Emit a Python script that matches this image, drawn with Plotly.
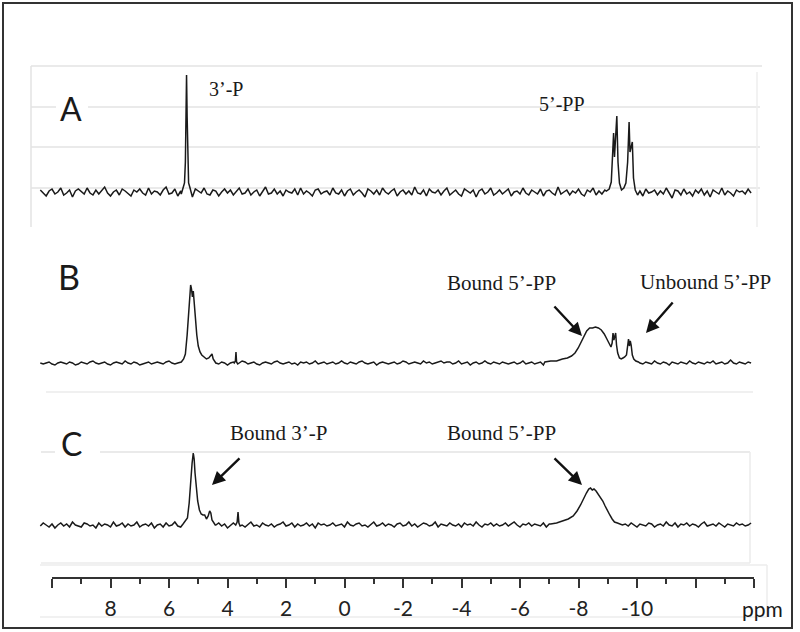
import numpy as np
import plotly.graph_objects as go

# ---------------- data (ppm, intensity in arbitrary units, baseline = 0) ----------------
grid_start, grid_stop, grid_step = 10.4, -13.95, -0.1

noise_A = [2,-1,-4,1,3,-2,0,4,-3,-1,2,-5,1,3,0,-2,4,-1,-3,2,
           -2,1,5,-1,-4,0,2,-3,3,1,-2,-4,2,0,3,-1,-3,4,-2,1,
           0,-3,2,5,-2,-1,3,-4,1,-2,2,0,-5,3,1,-1,4,-2,-3,2,
           1,-4,0,3,-1,2,-3,1,4,-2,-1,3,-3,0,2,-4,1,5,-2,-1,
           3,-2,1,-4,2,0,-1,3,-3,4,-2,1,-1,-4,2,3,-2,0,1,-3,
           4,-1,-2,2,-4,1,3,-3,0,2,-1,-5,3,1,-2,2,-3,4,0,-2,
           1,3,-4,0,2,-2,1,-3,5,-1,-2,2,-4,3,0,-1,2,-3,1,4,
           -3,0,2,-2,-4,3,1,-1,2,-5,1,3,-2,0,4,-3,-1,2,-2,1,
           3,-4,0,1,-2,4,-1,-3,2,0,-2,3,-4,1,2,-1,-3,5,-2,0,
           2,-3,1,-1,3,-2,-4,2,0,4,-3,1,-2,2,-1,-5,3,0,-2,1,
           -1,4,-2,-3,2,1,-4,3,-1,0,2,-3,1,-2,4,-1,-6,2,1,-3,
           3,-2,0,-4,2,-1,3,-3,1,-5,2,0,-2,4,-3,1,-1,-4,2,0,
           1,-2,3,-1]
noise_B = [0,-1,0,1,-1,-2,0,1,0,-1,1,0,-2,-1,1,0,-1,1,2,0,
           -1,0,1,-1,-2,0,1,0,-1,2,0,-1,1,0,-2,-1,0,1,-1,0,
           1,0,-1,1,2,0,-1,0,1,-1,-2,0,1,1,-1,0,2,0,-1,1,
           0,-1,1,0,-2,0,1,-1,0,2,1,-1,0,1,-1,-2,0,1,0,-1,
           1,2,0,-1,0,1,-1,0,-2,1,0,1,-1,0,2,-1,0,1,-1,0,
           1,-1,0,2,0,-1,1,0,-1,1,2,0,-1,0,1,-2,0,1,0,-1,
           0,1,-1,0,2,1,-1,0,1,0,-1,2,0,1,-1,0,1,2,0,1,
           1,-1,0,2,-1,0,1,-2,0,1,-1,0,2,0,-1,1,0,-1,1,0,
           -1,0,1,-1,0,2,-1,0,1,-1,0,1,-2,0,1,0,-1,1,0,-1,
           1,0,-1,2,0,-1,1,0,-2,1,0,-1,1,2,0,-1,0,1,-1,0,
           1,-1,0,1,3,0,-1,1,0,-1,2,0,-1,1,0,-2,1,0,-1,1,
           0,-1,2,0,-1,1,0,-1,1,0,2,-1,0,1,-1,0,3,0,-1,1,
           0,-1,1,0]
noise_C = [-1,2,0,-2,1,-3,0,2,-1,1,-2,3,0,-1,-2,2,1,-1,0,-3,
           2,-1,1,0,-2,3,-1,0,2,-2,1,-1,0,3,-2,0,1,-1,2,-3,
           0,1,-2,2,-1,0,3,-1,-2,1,0,2,-1,-3,1,0,2,-2,1,-1,
           0,2,-1,1,-3,0,2,-1,1,0,-2,1,3,-1,0,-2,2,0,-1,1,
           -2,0,1,3,-1,0,2,-2,1,-1,0,2,-1,1,-3,2,0,1,-1,0,
           2,-1,0,1,-2,3,0,-1,1,2,-1,0,-2,1,3,-1,0,2,-1,1,
           0,-2,1,2,-1,0,3,-1,1,-2,0,2,1,-1,0,3,-2,1,0,-1,
           2,0,-1,1,-2,2,0,1,-1,3,0,-2,1,0,2,-1,1,-1,0,2,
           -1,1,3,0,-2,1,0,2,-1,1,0,-1,2,-2,1,0,3,-1,0,1,
           -2,1,0,2,-1,0,1,-2,2,0,-1,1,3,-1,0,-2,1,2,-1,0,
           1,-1,2,0,-2,1,0,-1,2,1,-2,0,1,-1,3,0,-1,2,-2,1,
           0,2,-1,1,0,-2,1,3,-1,0,1,-1,2,0,-2,1,0,-1,2,0,
           1,-1,0,2]

# peaks: (ppm list, intensity list)
peaks_A = [
    ([5.58, 5.52, 5.47, 5.44, 5.42, 5.40, 5.38, 5.36, 5.33, 5.29, 5.24],
     [-2, 4, 9, 30, 90, 117, 75, 25, 9, 5, -1]),
    ([-8.95, -9.05, -9.12, -9.17, -9.20, -9.23, -9.27, -9.31, -9.35, -9.40, -9.47, -9.55, -9.62, -9.68, -9.73, -9.76, -9.80, -9.84, -9.88, -9.94, -10.02],
     [1, 3, 10, 40, 59, 35, 55, 76, 30, 9, 2, 4, 9, 30, 70, 40, 45, 50, 14, 2, -3]),
]
peaks_B = [
    ([5.58, 5.50, 5.44, 5.38, 5.33, 5.29, 5.26, 5.23, 5.20, 5.17, 5.14, 5.10, 5.05, 5.00, 4.94, 4.88, 4.80, 4.72, 4.64, 4.57, 4.53, 4.49, 4.44],
     [1, 4, 9, 28, 52, 70, 78, 74, 66, 72, 60, 44, 28, 17, 11, 8, 6, 4, 5, 8, 9, 4, 1]),
    ([3.77, 3.73, 3.71, 3.69, 3.65],
     [0, 2, 11, 1, -1]),
    ([-6.85, -7.05, -7.25, -7.45, -7.62, -7.76, -7.88, -7.99, -8.09, -8.18, -8.28, -8.38, -8.48, -8.58, -8.68, -8.78, -8.88, -8.97, -9.05, -9.11, -9.15, -9.18, -9.21, -9.24, -9.27, -9.30, -9.34, -9.40, -9.46, -9.52, -9.58, -9.64, -9.68, -9.71, -9.74, -9.77, -9.80, -9.84, -9.89, -9.96, -10.05],
     [1, 2, 2, 4, 5, 7, 10, 15, 21, 27, 32, 35, 35, 36, 35, 33, 29, 24, 19, 16, 20, 30, 23, 28, 30, 18, 10, 5, 4, 5, 6, 8, 15, 24, 17, 22, 18, 8, 4, 2, 1]),
]
peaks_C = [
    ([5.52, 5.44, 5.37, 5.31, 5.26, 5.21, 5.17, 5.14, 5.11, 5.07, 5.02, 4.96, 4.90, 4.84, 4.78, 4.72, 4.66, 4.61, 4.57, 4.53, 4.48, 4.42],
     [1, 4, 7, 22, 45, 62, 72, 66, 52, 38, 24, 15, 11, 10, 10, 6, 9, 14, 12, 5, 2, 0]),
    ([3.72, 3.67, 3.64, 3.61, 3.57],
     [0, 3, 13, 2, -1]),
    ([-7.05, -7.25, -7.45, -7.65, -7.82, -7.95, -8.07, -8.18, -8.27, -8.35, -8.41, -8.47, -8.53, -8.60, -8.67, -8.75, -8.83, -8.91, -8.99, -9.07, -9.15, -9.23, -9.33, -9.45],
     [1, 2, 4, 6, 9, 14, 20, 27, 32, 36, 37, 35, 36, 34, 31, 28, 24, 19, 14, 10, 6, 3, 2, 0]),
]

axis_major = [10, 8, 6, 4, 2, 0, -2, -4, -6, -8, -10, -12, -14]
axis_labels = ["", "8", "6", "4", "2", "0", "-2", "-4", "-6", "-8", "-10", "", ""]
axis_minor = [9, 7, 5, 3, 1, -1, -3, -5, -7, -9, -11, -13]


def build(noise, peaks):
    gx = np.round(np.arange(grid_start, grid_stop, grid_step), 3)[:len(noise)]
    gy = np.array(noise[:len(gx)], dtype=float)
    keep = np.ones(len(gx), bool)
    for px, _ in peaks:
        keep &= ~((gx <= max(px)) & (gx >= min(px)))
    xs = list(gx[keep]); ys = list(gy[keep])
    for px, py in peaks:
        xs += px; ys += py
    order = np.argsort(-np.array(xs))
    return np.array(xs)[order], np.array(ys)[order]


W, H = 800, 632
fig = go.Figure()
line = dict(color="#1a1a1a", width=1.5)
for noise, peaks, ya in [(noise_A, peaks_A, "y"), (noise_B, peaks_B, "y2"), (noise_C, peaks_C, "y3")]:
    x, y = build(noise, peaks)
    fig.add_trace(go.Scatter(x=x, y=y, mode="lines", line=line, xaxis="x", yaxis=ya,
                             hoverinfo="skip", showlegend=False))
# invisible trace to carry the ppm scale axis
fig.add_trace(go.Scatter(x=[10, -14], y=[-1000, -1000], mode="markers", opacity=0,
                         xaxis="x2", yaxis="y", showlegend=False, hoverinfo="skip"))

px_per_ppm = (754 - 52) / 24.0
xr = [10 + 52 / px_per_ppm, 10 - (W - 52) / px_per_ppm]


def yr(base_px):
    return [-(H - base_px), base_px]


def P(x, y):
    return x / W, 1 - y / H


shapes = []
def hline(x0, x1, y, color="#e3e3e3", w=1.5):
    shapes.append(dict(type="line", xref="paper", yref="paper", x0=x0 / W, x1=x1 / W,
                       y0=1 - y / H, y1=1 - y / H, line=dict(color=color, width=w), layer="below"))
def vline(x, y0, y1, color="#e3e3e3", w=1.5):
    shapes.append(dict(type="line", xref="paper", yref="paper", x0=x / W, x1=x / W,
                       y0=1 - y0 / H, y1=1 - y1 / H, line=dict(color=color, width=w), layer="below"))
def wrect(x0, y0, x1, y1):
    shapes.append(dict(type="rect", xref="paper", yref="paper", x0=x0 / W, x1=x1 / W,
                       y0=1 - y1 / H, y1=1 - y0 / H, line=dict(width=0), fillcolor="white", layer="below"))

# panel A frame + grid
hline(31, 762, 66)
for gy_ in [107, 147, 188]:
    hline(31, 760, gy_)
vline(31, 66, 227)
vline(757, 72, 227, color="#eeeeee")
wrect(56, 74, 88, 140)
# panel B frame
hline(46, 753, 392, color="#ebebeb")
# panel C frame
hline(41, 750, 452)
hline(41, 750, 563, color="#ebebeb")
vline(750, 452, 563, color="#ebebeb")
wrect(55, 446, 100, 462)
# scale frame
hline(40, 767, 565, color="#ececec")
hline(40, 767, 617, color="#ececec")
vline(767, 565, 617, color="#ececec")
# outer border
shapes.append(dict(type="rect", xref="paper", yref="paper", x0=3 / W, x1=792 / W,
                   y0=1 - 628 / H, y1=1 - 3 / H, line=dict(color="#333333", width=2)))

ann = []
def text(s, x, y, size, family, color="#1a1a1a"):
    ax, ay = P(x, y)
    ann.append(dict(text=s, x=ax, y=ay, xref="paper", yref="paper", showarrow=False,
                    xanchor="center", yanchor="middle", font=dict(size=size, family=family, color=color)))
def arrow(x0, y0, x1, y1):
    hx, hy = P(x1, y1)
    ann.append(dict(text="", x=hx, y=hy, xref="paper", yref="paper", ax=x0 - x1, ay=y0 - y1,
                    showarrow=True, arrowhead=2, arrowsize=1.1, arrowwidth=2.4, arrowcolor="#111111"))

sans = "Lato, 'Open Sans', sans-serif"
serif = "'Liberation Serif', 'DejaVu Serif', serif"
text("A", 71, 108, 32, sans)
text("3’-P", 226, 89, 20, serif)
text("5’-PP", 562, 104, 20, serif)
text("B", 69, 276, 34, sans)
text("Bound 5’-PP", 502, 283, 21, serif)
text("Unbound 5’-PP", 705, 282, 21, serif)
arrow(553, 305, 582, 336)
arrow(674, 301, 646, 333)
text("C", 71, 443, 32, sans)
text("Bound 3’-P", 278, 433, 21, serif)
text("Bound 5’-PP", 502, 433, 21, serif)
arrow(241, 457, 212, 485)
arrow(553, 457, 582, 485)
text("ppm", 762, 608, 21, sans)

fig.update_layout(
    width=W, height=H, margin=dict(l=0, r=0, t=0, b=0),
    paper_bgcolor="white", plot_bgcolor="rgba(0,0,0,0)",
    xaxis=dict(domain=[0, 1], range=xr, visible=False, fixedrange=True),
    xaxis2=dict(domain=[52 / W, 754 / W], range=[10, -14], anchor="free", position=1 - 578 / H,
                showline=True, linecolor="#333333", linewidth=1.5, ticks="outside", ticklen=9,
                tickwidth=1.5, tickcolor="#333333", tickmode="array", tickvals=axis_major,
                ticktext=axis_labels, tickfont=dict(family=sans, size=21, color="#222222"),
                ticklabelstandoff=3,
                minor=dict(tickmode="array", tickvals=axis_minor, ticks="outside", ticklen=5,
                           tickwidth=1.5, tickcolor="#333333"),
                showgrid=False, zeroline=False, fixedrange=True),
    yaxis=dict(domain=[0, 1], range=yr(192), visible=False, fixedrange=True),
    yaxis2=dict(domain=[0, 1], range=yr(363), visible=False, overlaying="y", fixedrange=True),
    yaxis3=dict(domain=[0, 1], range=yr(525), visible=False, overlaying="y", fixedrange=True),
    shapes=shapes, annotations=ann,
)
fig.write_html("out.html", config={"displayModeBar": False},
               post_script="document.body.style.margin='0';document.body.style.overflow='hidden';")
